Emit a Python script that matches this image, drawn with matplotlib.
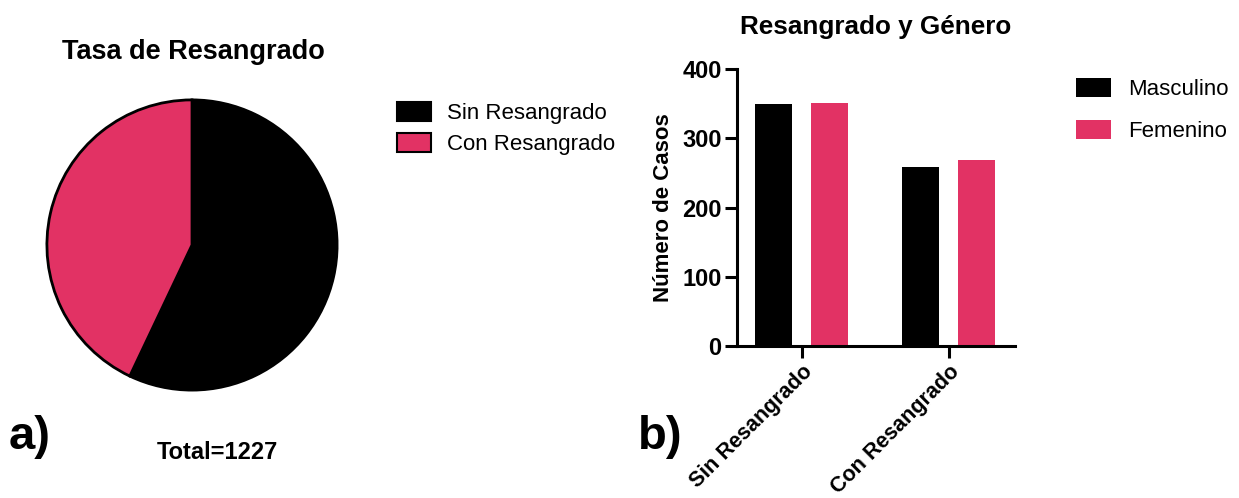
import matplotlib
matplotlib.use("Agg")
import matplotlib.pyplot as plt
from matplotlib.patches import Patch
import numpy as np

plt.rcParams['font.family'] = ['Liberation Sans', 'DejaVu Sans']

# datos
pie_labels = ['Sin Resangrado', 'Con Resangrado']
groups = ['Sin Resangrado', 'Con Resangrado']
masculino = [349, 258]
femenino = [351, 269]
pie_values = [masculino[0] + femenino[0], masculino[1] + femenino[1]]
total = sum(pie_values)

PINK = '#E23264'
W, H = 1239, 498

fig = plt.figure(figsize=(W / 100, H / 100), dpi=100)


def fx(px):
    return px / W


def fy(py):
    return 1 - py / H


# a) pastel
cx, cy, r = 192, 245, 148
ax1 = fig.add_axes([fx(cx - r), fy(cy + r), r * 2 / W, r * 2 / H])
ax1.pie(pie_values, colors=['black', PINK], startangle=90, counterclock=False,
        wedgeprops=dict(edgecolor='black', linewidth=2))
ax1.set_xlim(-1.02, 1.02)
ax1.set_ylim(-1.02, 1.02)
fig.text(fx(193), fy(52), 'Tasa de Resangrado', ha='center', va='center',
         fontsize=19.5, fontweight='bold')
fig.text(fx(217), fy(452), f'Total={total}', ha='center', va='center',
         fontsize=17, fontweight='bold')
fig.text(fx(30), fy(437), 'a)', ha='center', va='center',
         fontsize=34, fontweight='bold')

h1 = [Patch(facecolor='black', edgecolor='black', linewidth=1.5),
      Patch(facecolor=PINK, edgecolor='black', linewidth=1.5)]
fig.legend(h1, pie_labels, loc='upper left', bbox_to_anchor=(fx(397), fy(102)),
           frameon=False, fontsize=16, handlelength=1.55, handleheight=0.92,
           handletextpad=0.7, labelspacing=0.42, borderpad=0, borderaxespad=0)

# b) barras
ax2 = fig.add_axes([fx(737), fy(346), fx(1015 - 737), (346 - 69) / H])
x = np.arange(len(groups))
bw = 0.25
ax2.bar(x - 0.19, masculino, bw, color='black', label='Masculino')
ax2.bar(x + 0.19, femenino, bw, color=PINK, label='Femenino')
ax2.set_xlim(-0.44, 1.45)
ax2.set_ylim(0, 400)
ax2.set_yticks([0, 100, 200, 300, 400])
ax2.set_xticks(x)
ax2.set_xticklabels(groups, rotation=45, ha='right', rotation_mode='anchor')
for s in ['top', 'right']:
    ax2.spines[s].set_visible(False)
for s in ['left', 'bottom']:
    ax2.spines[s].set_linewidth(2.2)
ax2.tick_params(width=2.2, length=8.5, pad=2.5)
ax2.tick_params(axis='y', labelsize=17)
ax2.tick_params(axis='x', labelsize=15.5)
for lab in ax2.get_xticklabels() + ax2.get_yticklabels():
    lab.set_fontweight('bold')
ax2.set_ylabel('Número de Casos', fontsize=16, fontweight='bold', labelpad=6)
fig.text(fx(876), fy(27), 'Resangrado y Género', ha='center', va='center',
         fontsize=18.8, fontweight='bold')
fig.text(fx(660), fy(437), 'b)', ha='center', va='center',
         fontsize=34, fontweight='bold')

ax2.legend(loc='upper left', bbox_to_anchor=(fx(1076), fy(78)),
           bbox_transform=fig.transFigure, frameon=False, fontsize=16,
           handlelength=1.58, handleheight=0.95, handletextpad=0.75,
           labelspacing=0.9, borderpad=0, borderaxespad=0)

fig.savefig('out.png', dpi=100)
